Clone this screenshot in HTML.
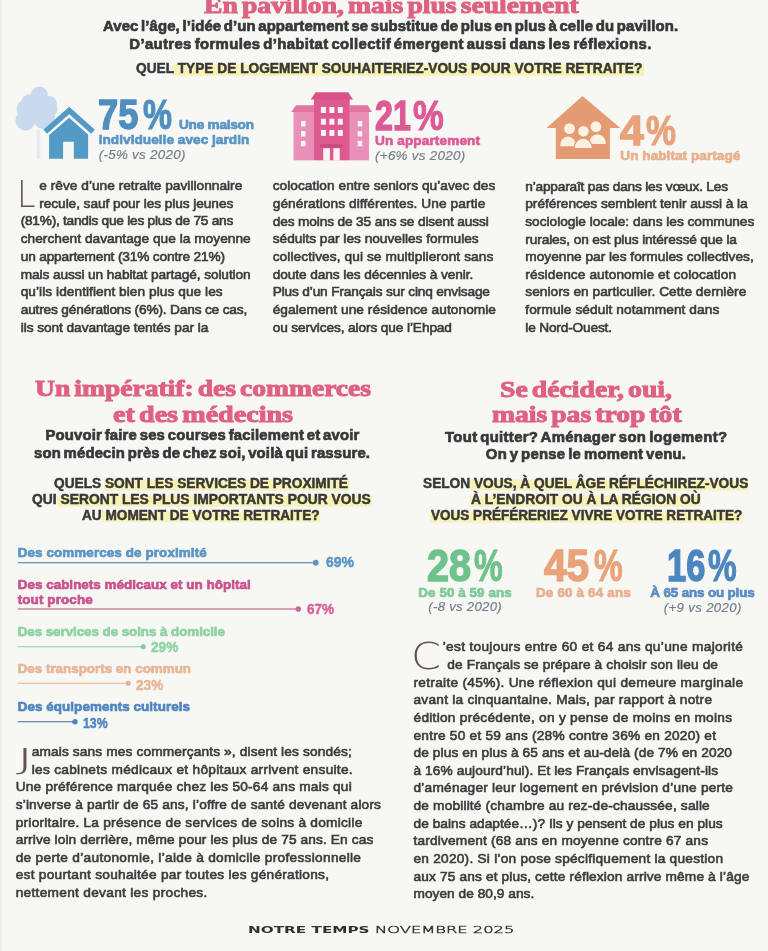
<!DOCTYPE html>
<html lang="fr"><head><meta charset="utf-8"><title>Notre Temps</title>
<style>
html,body{margin:0;padding:0}
body{width:768px;height:951px;overflow:hidden;background:#f7f7f3;position:relative}
#pg{position:absolute;left:0;top:0;width:768px;height:951px;overflow:hidden;filter:blur(0.5px)}
#art{position:absolute;left:0;top:0;width:768px;height:951px}
.t{position:absolute;white-space:pre;transform-origin:0 50%;display:block}
</style></head><body><div id="pg">
<svg id="art" viewBox="0 0 768 951" width="768" height="951">
<defs>
<linearGradient id="edge" x1="0" x2="1" y1="0" y2="0"><stop offset="0" stop-color="#e4e5e3"/><stop offset="1" stop-color="#f7f7f3" stop-opacity="0"/></linearGradient>
</defs>
<rect x="0" y="0" width="3" height="951" fill="url(#edge)"/>
<!-- highlights -->
<g fill="#f7f2b6">
<rect x="173" y="64.5" width="471" height="11.5"/>
<rect x="104" y="479.5" width="245" height="11"/>
<rect x="57" y="495.5" width="314.5" height="11"/>
<rect x="102" y="511.5" width="218" height="10.5"/>
<rect x="470" y="479.5" width="278.5" height="11"/>
<rect x="470" y="495.5" width="231" height="11"/>
<rect x="430" y="511.5" width="312.5" height="11"/>
</g>
<!-- blue house -->
<g>
<g fill="#c9daee">
<circle cx="39.3" cy="95" r="8.5"/><ellipse cx="37" cy="109" rx="20.5" ry="13"/><circle cx="25.5" cy="120.5" r="10"/><circle cx="44" cy="118" r="11"/><circle cx="30" cy="103" r="9"/><circle cx="49" cy="104" r="8"/>
</g>
<rect x="36.7" y="130" width="3.4" height="28.8" fill="#e3eaf2"/>
<polyline points="45.2,131.75 69.2,110.4 93,131.75" fill="none" stroke="#549ac7" stroke-width="5.6" stroke-linejoin="miter"/>
<path d="M69.2 117.8 L49.1 135 V158.8 H63.1 V141.8 H73.8 V158.8 H88.1 V134.6 Z" fill="#549ac7"/>
</g>
<!-- pink building -->
<g>
<rect x="293.5" y="111" width="20.6" height="49.3" fill="#e990b8"/>
<rect x="349.5" y="111" width="19.5" height="49.3" fill="#e990b8"/>
<path d="M296 105.2 H314 V112 H291.3 Z" fill="#e274a4"/>
<path d="M349.6 105.2 H367.7 L372 112 H349.6 Z" fill="#e274a4"/>
<rect x="313.9" y="99" width="35.8" height="61.3" fill="#dc5a90"/>
<path d="M315.6 92.2 H348.2 L353 99.4 H310.7 Z" fill="#d9528a"/>
<g fill="#fbf3f4">
<rect x="320.9" y="107" width="5" height="6"/><rect x="329.4" y="107" width="5" height="6"/><rect x="337.8" y="107" width="5" height="6"/>
<rect x="320.9" y="118.7" width="5" height="6"/><rect x="329.4" y="118.7" width="5" height="6"/><rect x="337.8" y="118.7" width="5" height="6"/>
<rect x="320.9" y="129.9" width="5" height="6"/><rect x="329.4" y="129.9" width="5" height="6"/><rect x="337.8" y="129.9" width="5" height="6"/>
<rect x="301" y="121" width="4.5" height="5.5"/><rect x="301" y="131" width="4.5" height="5.5"/><rect x="301" y="140.8" width="4.5" height="5.5"/>
<rect x="357.7" y="121" width="4.5" height="5.5"/><rect x="357.7" y="131" width="4.5" height="5.5"/><rect x="357.7" y="140.8" width="4.5" height="5.5"/>
<rect x="323.2" y="148.2" width="6.7" height="12.3"/><rect x="333.4" y="148.2" width="6.3" height="12.3"/>
</g>
<rect x="320.2" y="144.2" width="22.1" height="3.2" fill="#c94a7e"/>
</g>
<!-- orange house -->
<g>
<path d="M582.5 96.1 L620.3 128 H609.9 V159 H555.8 V128 H546.5 Z" fill="#e49b74"/>
<g fill="#faf1e3">
<circle cx="569.5" cy="128.6" r="5.4"/><circle cx="595.9" cy="126.7" r="5.4"/>
<path d="M560 146.2 A8 9.8 0 0 1 576 146.2 Z"/>
<path d="M589 143.9 A8.5 9.7 0 0 1 606 143.9 Z"/>
</g>
<g fill="#faf1e3" stroke="#e49b74" stroke-width="1.2">
<circle cx="583.4" cy="131.2" r="5.9"/>
<path d="M574 148.5 A9.15 10.4 0 0 1 592.3 148.5 Z"/>
</g>
</g>
<!-- bars -->
<g stroke-width="1.1" fill="none">
<line x1="17.7" y1="562.7" x2="315" y2="562.7" stroke="#56728f"/>
<line x1="17.7" y1="609" x2="298" y2="609" stroke="#b05080"/>
<line x1="17.7" y1="646.7" x2="143" y2="646.7" stroke="#8ccfa2"/>
<line x1="17.7" y1="683.3" x2="128" y2="683.3" stroke="#e4b595"/>
<line x1="17.7" y1="721.7" x2="75" y2="721.7" stroke="#44699a"/>
</g>
<circle cx="315.7" cy="562.7" r="2.9" fill="#5b95c5"/>
<circle cx="298.3" cy="609" r="2.7" fill="#d0609a"/>
<circle cx="143.3" cy="646.7" r="2.5" fill="#84cc9c"/>
<circle cx="128.3" cy="683.3" r="2.5" fill="#e6b090"/>
<circle cx="75" cy="721.7" r="2.7" fill="#4f86c0"/>
</svg>

<span class="t" style="left:204.0px;top:-6.00px;font:normal 700 23.6px/1 'Liberation Serif', serif;color:#df6182;transform:scaleX(1.1699);word-spacing:-0.1em;-webkit-text-stroke:1.0px #df6182;">En pavillon, mais plus seulement</span>
<span class="t" style="left:103.0px;top:19.00px;font:normal 700 14.9px/1 'Liberation Sans', sans-serif;color:#38383a;letter-spacing:0.105px;word-spacing:-1.6px;-webkit-text-stroke:0.7px #38383a;">Avec l’âge, l’idée d’un appartement se substitue de plus en plus à celle du pavillon.</span>
<span class="t" style="left:129.3px;top:37.00px;font:normal 700 14.9px/1 'Liberation Sans', sans-serif;color:#38383a;letter-spacing:0.359px;word-spacing:-1.6px;-webkit-text-stroke:0.7px #38383a;">D’autres formules d’habitat collectif émergent aussi dans les réflexions.</span>
<span class="t" style="left:136.3px;top:61.00px;font:normal 700 14.6px/1 'Liberation Sans', sans-serif;color:#38383a;transform:scaleX(0.9396);-webkit-text-stroke:0.5px #38383a;">QUEL TYPE DE LOGEMENT SOUHAITERIEZ-VOUS POUR VOTRE RETRAITE?</span>
<span class="t" style="left:98.2px;top:93.00px;font:normal 700 43.2px/1 'Liberation Sans', sans-serif;color:#4f8fc0;transform:scaleX(0.8408);-webkit-text-stroke:1.5px #4f8fc0;">75</span>
<span class="t" style="left:143.0px;top:93.00px;font:normal 700 43.2px/1 'Liberation Sans', sans-serif;color:#4f8fc0;transform:scaleX(0.7551);-webkit-text-stroke:1.1px #4f8fc0;">%</span>
<span class="t" style="left:179.0px;top:118.00px;font:normal 700 13.6px/1 'Liberation Sans', sans-serif;color:#5994c2;letter-spacing:-0.229px;-webkit-text-stroke:0.7px #5994c2;">Une maison</span>
<span class="t" style="left:98.7px;top:133.00px;font:normal 700 13.6px/1 'Liberation Sans', sans-serif;color:#5994c2;letter-spacing:0.044px;-webkit-text-stroke:0.7px #5994c2;">individuelle avec jardin</span>
<span class="t" style="left:98.7px;top:148.00px;font:italic 400 13.4px/1 'Liberation Sans', sans-serif;color:#74808c;letter-spacing:0.278px;-webkit-text-stroke:0.2px #74808c;">(-5% vs 2020)</span>
<span class="t" style="left:374.5px;top:94.00px;font:normal 700 43.2px/1 'Liberation Sans', sans-serif;color:#dc5b95;transform:scaleX(0.7451);-webkit-text-stroke:1.5px #dc5b95;">21</span>
<span class="t" style="left:412.7px;top:94.00px;font:normal 700 43.2px/1 'Liberation Sans', sans-serif;color:#dc5b95;transform:scaleX(0.8020);-webkit-text-stroke:1.1px #dc5b95;">%</span>
<span class="t" style="left:375.0px;top:134.00px;font:normal 700 13.6px/1 'Liberation Sans', sans-serif;color:#dc5b95;letter-spacing:0.117px;-webkit-text-stroke:0.7px #dc5b95;">Un appartement</span>
<span class="t" style="left:375.0px;top:149.00px;font:italic 400 13.4px/1 'Liberation Sans', sans-serif;color:#74808c;letter-spacing:0.298px;-webkit-text-stroke:0.2px #74808c;">(+6% vs 2020)</span>
<span class="t" style="left:619.8px;top:109.00px;font:normal 700 43.2px/1 'Liberation Sans', sans-serif;color:#e9a37b;transform:scaleX(0.9862);-webkit-text-stroke:1.5px #e9a37b;">4</span>
<span class="t" style="left:646.0px;top:109.00px;font:normal 700 43.2px/1 'Liberation Sans', sans-serif;color:#e9a37b;transform:scaleX(0.7811);-webkit-text-stroke:1.1px #e9a37b;">%</span>
<span class="t" style="left:620.3px;top:149.00px;font:normal 700 13.6px/1 'Liberation Sans', sans-serif;color:#e8b08d;letter-spacing:0.039px;-webkit-text-stroke:0.7px #e8b08d;">Un habitat partagé</span>
<span class="t" style="left:39.3px;top:179.00px;font:normal 400 13.7px/1 'Liberation Sans', sans-serif;color:#3b3b3d;letter-spacing:0.017px;-webkit-text-stroke:0.62px #3b3b3d;">e rêve d’une retraite pavillonnaire</span>
<span class="t" style="left:39.3px;top:197.00px;font:normal 400 13.7px/1 'Liberation Sans', sans-serif;color:#3b3b3d;letter-spacing:-0.072px;-webkit-text-stroke:0.62px #3b3b3d;">recule, sauf pour les plus jeunes</span>
<span class="t" style="left:20.7px;top:214.00px;font:normal 400 13.7px/1 'Liberation Sans', sans-serif;color:#3b3b3d;letter-spacing:-0.252px;-webkit-text-stroke:0.62px #3b3b3d;">(81%), tandis que les plus de 75 ans</span>
<span class="t" style="left:20.7px;top:232.00px;font:normal 400 13.7px/1 'Liberation Sans', sans-serif;color:#3b3b3d;letter-spacing:0.028px;-webkit-text-stroke:0.62px #3b3b3d;">cherchent davantage que la moyenne</span>
<span class="t" style="left:20.7px;top:250.00px;font:normal 400 13.7px/1 'Liberation Sans', sans-serif;color:#3b3b3d;letter-spacing:-0.165px;-webkit-text-stroke:0.62px #3b3b3d;">un appartement (31% contre 21%)</span>
<span class="t" style="left:20.7px;top:268.00px;font:normal 400 13.7px/1 'Liberation Sans', sans-serif;color:#3b3b3d;letter-spacing:-0.095px;-webkit-text-stroke:0.62px #3b3b3d;">mais aussi un habitat partagé, solution</span>
<span class="t" style="left:20.7px;top:285.00px;font:normal 400 13.7px/1 'Liberation Sans', sans-serif;color:#3b3b3d;letter-spacing:0.054px;-webkit-text-stroke:0.62px #3b3b3d;">qu’ils identifient bien plus que les</span>
<span class="t" style="left:20.7px;top:303.00px;font:normal 400 13.7px/1 'Liberation Sans', sans-serif;color:#3b3b3d;letter-spacing:-0.173px;-webkit-text-stroke:0.62px #3b3b3d;">autres générations (6%). Dans ce cas,</span>
<span class="t" style="left:20.7px;top:321.00px;font:normal 400 13.7px/1 'Liberation Sans', sans-serif;color:#3b3b3d;letter-spacing:-0.060px;-webkit-text-stroke:0.62px #3b3b3d;">ils sont davantage tentés par la</span>
<span class="t" style="left:272.7px;top:179.00px;font:normal 400 13.7px/1 'Liberation Sans', sans-serif;color:#3b3b3d;letter-spacing:0.034px;-webkit-text-stroke:0.62px #3b3b3d;">colocation entre seniors qu’avec des</span>
<span class="t" style="left:272.7px;top:197.00px;font:normal 400 13.7px/1 'Liberation Sans', sans-serif;color:#3b3b3d;letter-spacing:0.083px;-webkit-text-stroke:0.62px #3b3b3d;">générations différentes. Une partie</span>
<span class="t" style="left:272.7px;top:215.00px;font:normal 400 13.7px/1 'Liberation Sans', sans-serif;color:#3b3b3d;letter-spacing:-0.137px;-webkit-text-stroke:0.62px #3b3b3d;">des moins de 35 ans se disent aussi</span>
<span class="t" style="left:272.7px;top:232.00px;font:normal 400 13.7px/1 'Liberation Sans', sans-serif;color:#3b3b3d;letter-spacing:-0.006px;-webkit-text-stroke:0.62px #3b3b3d;">séduits par les nouvelles formules</span>
<span class="t" style="left:272.7px;top:250.00px;font:normal 400 13.7px/1 'Liberation Sans', sans-serif;color:#3b3b3d;letter-spacing:0.082px;-webkit-text-stroke:0.62px #3b3b3d;">collectives, qui se multiplieront sans</span>
<span class="t" style="left:272.7px;top:268.00px;font:normal 400 13.7px/1 'Liberation Sans', sans-serif;color:#3b3b3d;letter-spacing:-0.081px;-webkit-text-stroke:0.62px #3b3b3d;">doute dans les décennies à venir.</span>
<span class="t" style="left:272.7px;top:285.00px;font:normal 400 13.7px/1 'Liberation Sans', sans-serif;color:#3b3b3d;letter-spacing:-0.161px;-webkit-text-stroke:0.62px #3b3b3d;">Plus d’un Français sur cinq envisage</span>
<span class="t" style="left:272.7px;top:303.00px;font:normal 400 13.7px/1 'Liberation Sans', sans-serif;color:#3b3b3d;letter-spacing:0.058px;-webkit-text-stroke:0.62px #3b3b3d;">également une résidence autonomie</span>
<span class="t" style="left:272.7px;top:321.00px;font:normal 400 13.7px/1 'Liberation Sans', sans-serif;color:#3b3b3d;letter-spacing:-0.114px;-webkit-text-stroke:0.62px #3b3b3d;">ou services, alors que l’Ehpad</span>
<span class="t" style="left:525.3px;top:180.00px;font:normal 400 13.7px/1 'Liberation Sans', sans-serif;color:#3b3b3d;letter-spacing:-0.204px;-webkit-text-stroke:0.62px #3b3b3d;">n’apparaît pas dans les vœux. Les</span>
<span class="t" style="left:525.3px;top:197.00px;font:normal 400 13.7px/1 'Liberation Sans', sans-serif;color:#3b3b3d;letter-spacing:-0.036px;-webkit-text-stroke:0.62px #3b3b3d;">préférences semblent tenir aussi à la</span>
<span class="t" style="left:525.3px;top:215.00px;font:normal 400 13.7px/1 'Liberation Sans', sans-serif;color:#3b3b3d;letter-spacing:-0.022px;-webkit-text-stroke:0.62px #3b3b3d;">sociologie locale: dans les communes</span>
<span class="t" style="left:525.3px;top:233.00px;font:normal 400 13.7px/1 'Liberation Sans', sans-serif;color:#3b3b3d;letter-spacing:-0.122px;-webkit-text-stroke:0.62px #3b3b3d;">rurales, on est plus intéressé que la</span>
<span class="t" style="left:525.3px;top:250.00px;font:normal 400 13.7px/1 'Liberation Sans', sans-serif;color:#3b3b3d;letter-spacing:0.005px;-webkit-text-stroke:0.62px #3b3b3d;">moyenne par les formules collectives,</span>
<span class="t" style="left:525.3px;top:268.00px;font:normal 400 13.7px/1 'Liberation Sans', sans-serif;color:#3b3b3d;letter-spacing:0.093px;-webkit-text-stroke:0.62px #3b3b3d;">résidence autonomie et colocation</span>
<span class="t" style="left:525.3px;top:285.00px;font:normal 400 13.7px/1 'Liberation Sans', sans-serif;color:#3b3b3d;letter-spacing:0.030px;-webkit-text-stroke:0.62px #3b3b3d;">seniors en particulier. Cette dernière</span>
<span class="t" style="left:525.3px;top:303.00px;font:normal 400 13.7px/1 'Liberation Sans', sans-serif;color:#3b3b3d;letter-spacing:0.081px;-webkit-text-stroke:0.62px #3b3b3d;">formule séduit notamment dans</span>
<span class="t" style="left:525.3px;top:321.00px;font:normal 400 13.7px/1 'Liberation Sans', sans-serif;color:#3b3b3d;letter-spacing:-0.178px;-webkit-text-stroke:0.62px #3b3b3d;">le Nord-Ouest.</span>
<span class="t" style="left:35.0px;top:377.00px;font:normal 700 23.6px/1 'Liberation Serif', serif;color:#df6182;transform:scaleX(1.1668);word-spacing:-0.1em;-webkit-text-stroke:1.0px #df6182;">Un impératif: des commerces</span>
<span class="t" style="left:112.7px;top:403.00px;font:normal 700 23.6px/1 'Liberation Serif', serif;color:#df6182;transform:scaleX(1.1902);word-spacing:-0.1em;-webkit-text-stroke:1.0px #df6182;">et des médecins</span>
<span class="t" style="left:45.4px;top:428.00px;font:normal 700 14.9px/1 'Liberation Sans', sans-serif;color:#38383a;letter-spacing:0.167px;word-spacing:-1.6px;-webkit-text-stroke:0.7px #38383a;">Pouvoir faire ses courses facilement et avoir</span>
<span class="t" style="left:34.0px;top:446.00px;font:normal 700 14.9px/1 'Liberation Sans', sans-serif;color:#38383a;letter-spacing:0.149px;word-spacing:-1.6px;-webkit-text-stroke:0.7px #38383a;">son médecin près de chez soi, voilà qui rassure.</span>
<span class="t" style="left:54.3px;top:476.00px;font:normal 700 14.0px/1 'Liberation Sans', sans-serif;color:#38383a;transform:scaleX(0.9774);-webkit-text-stroke:0.5px #38383a;">QUELS SONT LES SERVICES DE PROXIMITÉ</span>
<span class="t" style="left:32.3px;top:492.00px;font:normal 700 14.0px/1 'Liberation Sans', sans-serif;color:#38383a;transform:scaleX(0.9881);-webkit-text-stroke:0.5px #38383a;">QUI SERONT LES PLUS IMPORTANTS POUR VOUS</span>
<span class="t" style="left:81.7px;top:508.00px;font:normal 700 14.0px/1 'Liberation Sans', sans-serif;color:#38383a;transform:scaleX(0.9728);-webkit-text-stroke:0.5px #38383a;">AU MOMENT DE VOTRE RETRAITE?</span>
<span class="t" style="left:500.0px;top:378.00px;font:normal 700 23.6px/1 'Liberation Serif', serif;color:#df6182;transform:scaleX(1.1743);word-spacing:-0.1em;-webkit-text-stroke:1.0px #df6182;">Se décider, oui,</span>
<span class="t" style="left:491.7px;top:403.00px;font:normal 700 23.6px/1 'Liberation Serif', serif;color:#df6182;transform:scaleX(1.1686);word-spacing:-0.1em;-webkit-text-stroke:1.0px #df6182;">mais pas trop tôt</span>
<span class="t" style="left:445.0px;top:430.00px;font:normal 700 14.9px/1 'Liberation Sans', sans-serif;color:#38383a;letter-spacing:0.322px;word-spacing:-1.6px;-webkit-text-stroke:0.7px #38383a;">Tout quitter? Aménager son logement?</span>
<span class="t" style="left:485.8px;top:447.00px;font:normal 700 14.9px/1 'Liberation Sans', sans-serif;color:#38383a;letter-spacing:0.252px;word-spacing:-1.6px;-webkit-text-stroke:0.7px #38383a;">On y pense le moment venu.</span>
<span class="t" style="left:422.7px;top:476.00px;font:normal 700 14.0px/1 'Liberation Sans', sans-serif;color:#38383a;transform:scaleX(0.9778);-webkit-text-stroke:0.5px #38383a;">SELON VOUS, À QUEL ÂGE RÉFLÉCHIREZ-VOUS</span>
<span class="t" style="left:470.7px;top:492.00px;font:normal 700 14.0px/1 'Liberation Sans', sans-serif;color:#38383a;transform:scaleX(0.9828);-webkit-text-stroke:0.5px #38383a;">À L’ENDROIT OU À LA RÉGION OÙ</span>
<span class="t" style="left:430.7px;top:508.00px;font:normal 700 14.0px/1 'Liberation Sans', sans-serif;color:#38383a;transform:scaleX(0.9666);-webkit-text-stroke:0.5px #38383a;">VOUS PRÉFÉRERIEZ VIVRE VOTRE RETRAITE?</span>
<span class="t" style="left:17.7px;top:546.00px;font:normal 700 13.4px/1 'Liberation Sans', sans-serif;color:#5b95c5;letter-spacing:0.117px;-webkit-text-stroke:0.7px #5b95c5;">Des commerces de proximité</span>
<span class="t" style="left:326.0px;top:554.00px;font:normal 700 15px/1 'Liberation Sans', sans-serif;color:#5b95c5;transform:scaleX(0.9324);-webkit-text-stroke:0.5px #5b95c5;">69%</span>
<span class="t" style="left:17.7px;top:578.00px;font:normal 700 13.4px/1 'Liberation Sans', sans-serif;color:#c9528d;letter-spacing:0.046px;-webkit-text-stroke:0.7px #c9528d;">Des cabinets médicaux et un hôpital</span>
<span class="t" style="left:17.7px;top:593.00px;font:normal 700 13.4px/1 'Liberation Sans', sans-serif;color:#c9528d;letter-spacing:0.134px;-webkit-text-stroke:0.7px #c9528d;">tout proche</span>
<span class="t" style="left:307.3px;top:601.00px;font:normal 700 15.5px/1 'Liberation Sans', sans-serif;color:#d8619a;transform:scaleX(0.8701);-webkit-text-stroke:0.5px #d8619a;">67%</span>
<span class="t" style="left:17.7px;top:625.00px;font:normal 700 13.4px/1 'Liberation Sans', sans-serif;color:#8ed3a4;letter-spacing:-0.060px;-webkit-text-stroke:0.7px #8ed3a4;">Des services de soins à domicile</span>
<span class="t" style="left:151.0px;top:639.00px;font:normal 700 15px/1 'Liberation Sans', sans-serif;color:#8ed3a4;transform:scaleX(0.9091);-webkit-text-stroke:0.5px #8ed3a4;">29%</span>
<span class="t" style="left:17.7px;top:662.00px;font:normal 700 13.4px/1 'Liberation Sans', sans-serif;color:#e6b797;letter-spacing:-0.003px;-webkit-text-stroke:0.7px #e6b797;">Des transports en commun</span>
<span class="t" style="left:136.0px;top:677.00px;font:normal 700 15px/1 'Liberation Sans', sans-serif;color:#e6b797;transform:scaleX(0.9091);-webkit-text-stroke:0.5px #e6b797;">23%</span>
<span class="t" style="left:17.7px;top:700.00px;font:normal 700 13.4px/1 'Liberation Sans', sans-serif;color:#4f86c0;letter-spacing:0.078px;-webkit-text-stroke:0.7px #4f86c0;">Des équipements culturels</span>
<span class="t" style="left:82.7px;top:715.00px;font:normal 700 15px/1 'Liberation Sans', sans-serif;color:#4f86c0;transform:scaleX(0.8191);-webkit-text-stroke:0.5px #4f86c0;">13%</span>
<span class="t" style="left:426.5px;top:544.00px;font:normal 700 44.4px/1 'Liberation Sans', sans-serif;color:#6fc28b;transform:scaleX(0.8929);-webkit-text-stroke:1.5px #6fc28b;">28</span>
<span class="t" style="left:474.0px;top:544.00px;font:normal 700 44.4px/1 'Liberation Sans', sans-serif;color:#6fc28b;transform:scaleX(0.7269);-webkit-text-stroke:1.1px #6fc28b;">%</span>
<span class="t" style="left:418.3px;top:586.00px;font:normal 700 13.4px/1 'Liberation Sans', sans-serif;color:#80c99a;letter-spacing:0.084px;-webkit-text-stroke:0.7px #80c99a;">De 50 à 59 ans</span>
<span class="t" style="left:428.3px;top:600.00px;font:italic 400 13.2px/1 'Liberation Sans', sans-serif;color:#74808c;letter-spacing:0.275px;-webkit-text-stroke:0.2px #74808c;">(-8 vs 2020)</span>
<span class="t" style="left:544.4px;top:544.00px;font:normal 700 44.4px/1 'Liberation Sans', sans-serif;color:#e9a37b;transform:scaleX(0.9152);-webkit-text-stroke:1.5px #e9a37b;">45</span>
<span class="t" style="left:594.0px;top:544.00px;font:normal 700 44.4px/1 'Liberation Sans', sans-serif;color:#e9a37b;transform:scaleX(0.7269);-webkit-text-stroke:1.1px #e9a37b;">%</span>
<span class="t" style="left:536.0px;top:586.00px;font:normal 700 13.4px/1 'Liberation Sans', sans-serif;color:#e8b08d;letter-spacing:0.184px;-webkit-text-stroke:0.7px #e8b08d;">De 60 à 64 ans</span>
<span class="t" style="left:667.0px;top:544.00px;font:normal 700 44.4px/1 'Liberation Sans', sans-serif;color:#4b86c0;transform:scaleX(0.7755);-webkit-text-stroke:1.5px #4b86c0;">16</span>
<span class="t" style="left:708.3px;top:544.00px;font:normal 700 44.4px/1 'Liberation Sans', sans-serif;color:#4b86c0;transform:scaleX(0.7269);-webkit-text-stroke:1.1px #4b86c0;">%</span>
<span class="t" style="left:650.3px;top:586.00px;font:normal 700 13.4px/1 'Liberation Sans', sans-serif;color:#5b8dc3;letter-spacing:-0.134px;-webkit-text-stroke:0.7px #5b8dc3;">À 65 ans ou plus</span>
<span class="t" style="left:663.7px;top:601.00px;font:italic 400 13.2px/1 'Liberation Sans', sans-serif;color:#74808c;letter-spacing:0.357px;-webkit-text-stroke:0.2px #74808c;">(+9 vs 2020)</span>
<span class="t" style="left:442.7px;top:640.00px;font:normal 400 13.7px/1 'Liberation Sans', sans-serif;color:#3b3b3d;letter-spacing:0.318px;-webkit-text-stroke:0.62px #3b3b3d;">’est toujours entre 60 et 64 ans qu’une majorité</span>
<span class="t" style="left:447.3px;top:658.00px;font:normal 400 13.7px/1 'Liberation Sans', sans-serif;color:#3b3b3d;letter-spacing:0.120px;-webkit-text-stroke:0.62px #3b3b3d;">de Français se prépare à choisir son lieu de</span>
<span class="t" style="left:413.5px;top:676.00px;font:normal 400 13.7px/1 'Liberation Sans', sans-serif;color:#3b3b3d;letter-spacing:0.291px;-webkit-text-stroke:0.62px #3b3b3d;">retraite (45%). Une réflexion qui demeure marginale</span>
<span class="t" style="left:413.5px;top:693.00px;font:normal 400 13.7px/1 'Liberation Sans', sans-serif;color:#3b3b3d;letter-spacing:0.248px;-webkit-text-stroke:0.62px #3b3b3d;">avant la cinquantaine. Mais, par rapport à notre</span>
<span class="t" style="left:413.5px;top:711.00px;font:normal 400 13.7px/1 'Liberation Sans', sans-serif;color:#3b3b3d;letter-spacing:0.268px;-webkit-text-stroke:0.62px #3b3b3d;">édition précédente, on y pense de moins en moins</span>
<span class="t" style="left:413.5px;top:729.00px;font:normal 400 13.7px/1 'Liberation Sans', sans-serif;color:#3b3b3d;letter-spacing:0.229px;-webkit-text-stroke:0.62px #3b3b3d;">entre 50 et 59 ans (28% contre 36% en 2020) et</span>
<span class="t" style="left:413.5px;top:746.00px;font:normal 400 13.7px/1 'Liberation Sans', sans-serif;color:#3b3b3d;letter-spacing:0.101px;-webkit-text-stroke:0.62px #3b3b3d;">de plus en plus à 65 ans et au-delà (de 7% en 2020</span>
<span class="t" style="left:413.5px;top:764.00px;font:normal 400 13.7px/1 'Liberation Sans', sans-serif;color:#3b3b3d;letter-spacing:0.097px;-webkit-text-stroke:0.62px #3b3b3d;">à 16% aujourd’hui). Et les Français envisagent-ils</span>
<span class="t" style="left:413.5px;top:781.00px;font:normal 400 13.7px/1 'Liberation Sans', sans-serif;color:#3b3b3d;letter-spacing:0.220px;-webkit-text-stroke:0.62px #3b3b3d;">d’aménager leur logement en prévision d’une perte</span>
<span class="t" style="left:413.5px;top:799.00px;font:normal 400 13.7px/1 'Liberation Sans', sans-serif;color:#3b3b3d;letter-spacing:0.175px;-webkit-text-stroke:0.62px #3b3b3d;">de mobilité (chambre au rez-de-chaussée, salle</span>
<span class="t" style="left:413.5px;top:817.00px;font:normal 400 13.7px/1 'Liberation Sans', sans-serif;color:#3b3b3d;letter-spacing:0.037px;-webkit-text-stroke:0.62px #3b3b3d;">de bains adaptée…)? Ils y pensent de plus en plus</span>
<span class="t" style="left:413.5px;top:834.00px;font:normal 400 13.7px/1 'Liberation Sans', sans-serif;color:#3b3b3d;letter-spacing:0.178px;-webkit-text-stroke:0.62px #3b3b3d;">tardivement (68 ans en moyenne contre 67 ans</span>
<span class="t" style="left:413.5px;top:852.00px;font:normal 400 13.7px/1 'Liberation Sans', sans-serif;color:#3b3b3d;letter-spacing:0.234px;-webkit-text-stroke:0.62px #3b3b3d;">en 2020). Si l’on pose spécifiquement la question</span>
<span class="t" style="left:413.5px;top:870.00px;font:normal 400 13.7px/1 'Liberation Sans', sans-serif;color:#3b3b3d;letter-spacing:0.146px;-webkit-text-stroke:0.62px #3b3b3d;">aux 75 ans et plus, cette réflexion arrive même à l’âge</span>
<span class="t" style="left:413.5px;top:887.00px;font:normal 400 13.7px/1 'Liberation Sans', sans-serif;color:#3b3b3d;letter-spacing:0.033px;-webkit-text-stroke:0.62px #3b3b3d;">moyen de 80,9 ans.</span>
<span class="t" style="left:31.7px;top:745.00px;font:normal 400 13.7px/1 'Liberation Sans', sans-serif;color:#3b3b3d;letter-spacing:0.140px;-webkit-text-stroke:0.62px #3b3b3d;">amais sans mes commerçants », disent les sondés;</span>
<span class="t" style="left:31.7px;top:763.00px;font:normal 400 13.7px/1 'Liberation Sans', sans-serif;color:#3b3b3d;letter-spacing:0.287px;-webkit-text-stroke:0.62px #3b3b3d;">les cabinets médicaux et hôpitaux arrivent ensuite.</span>
<span class="t" style="left:15.7px;top:780.00px;font:normal 400 13.7px/1 'Liberation Sans', sans-serif;color:#3b3b3d;letter-spacing:0.211px;-webkit-text-stroke:0.62px #3b3b3d;">Une préférence marquée chez les 50-64 ans mais qui</span>
<span class="t" style="left:15.7px;top:798.00px;font:normal 400 13.7px/1 'Liberation Sans', sans-serif;color:#3b3b3d;letter-spacing:0.170px;-webkit-text-stroke:0.62px #3b3b3d;">s’inverse à partir de 65 ans, l’offre de santé devenant alors</span>
<span class="t" style="left:15.7px;top:816.00px;font:normal 400 13.7px/1 'Liberation Sans', sans-serif;color:#3b3b3d;letter-spacing:0.243px;-webkit-text-stroke:0.62px #3b3b3d;">prioritaire. La présence de services de soins à domicile</span>
<span class="t" style="left:15.7px;top:833.00px;font:normal 400 13.7px/1 'Liberation Sans', sans-serif;color:#3b3b3d;letter-spacing:0.120px;-webkit-text-stroke:0.62px #3b3b3d;">arrive loin derrière, même pour les plus de 75 ans. En cas</span>
<span class="t" style="left:15.7px;top:851.00px;font:normal 400 13.7px/1 'Liberation Sans', sans-serif;color:#3b3b3d;letter-spacing:0.293px;-webkit-text-stroke:0.62px #3b3b3d;">de perte d’autonomie, l’aide à domicile professionnelle</span>
<span class="t" style="left:15.7px;top:868.00px;font:normal 400 13.7px/1 'Liberation Sans', sans-serif;color:#3b3b3d;letter-spacing:0.260px;-webkit-text-stroke:0.62px #3b3b3d;">est pourtant souhaitée par toutes les générations,</span>
<span class="t" style="left:15.7px;top:886.00px;font:normal 400 13.7px/1 'Liberation Sans', sans-serif;color:#3b3b3d;letter-spacing:0.294px;-webkit-text-stroke:0.62px #3b3b3d;">nettement devant les proches.</span>
<span class="t" style="left:247.7px;top:925.00px;font:normal 700 9.2px/1 'DejaVu Sans', sans-serif;color:#303032;transform:scaleX(1.6576);">NOTRE TEMPS</span>
<span class="t" style="left:375.0px;top:925.00px;font:normal 200 9.2px/1 'DejaVu Sans', sans-serif;color:#333335;transform:scaleX(1.7752);-webkit-text-stroke:0.4px #333335;">NOVEMBRE 2025</span>
<span class="t" style="left:17.0px;top:177.00px;font:normal 200 36.6px/1 'DejaVu Sans', sans-serif;color:#66505a;transform:scaleX(0.9073);">L</span>
<span class="t" style="left:15.5px;top:746.00px;font:normal 200 27.6px/1 'DejaVu Sans', sans-serif;color:#66505a;transform:scaleX(2.2111);">J</span>
<span class="t" style="left:411.3px;top:637.00px;font:normal 200 38px/1 'DejaVu Sans', sans-serif;color:#66505a;transform:scaleX(1.1301);">C</span>
</div></body></html>
